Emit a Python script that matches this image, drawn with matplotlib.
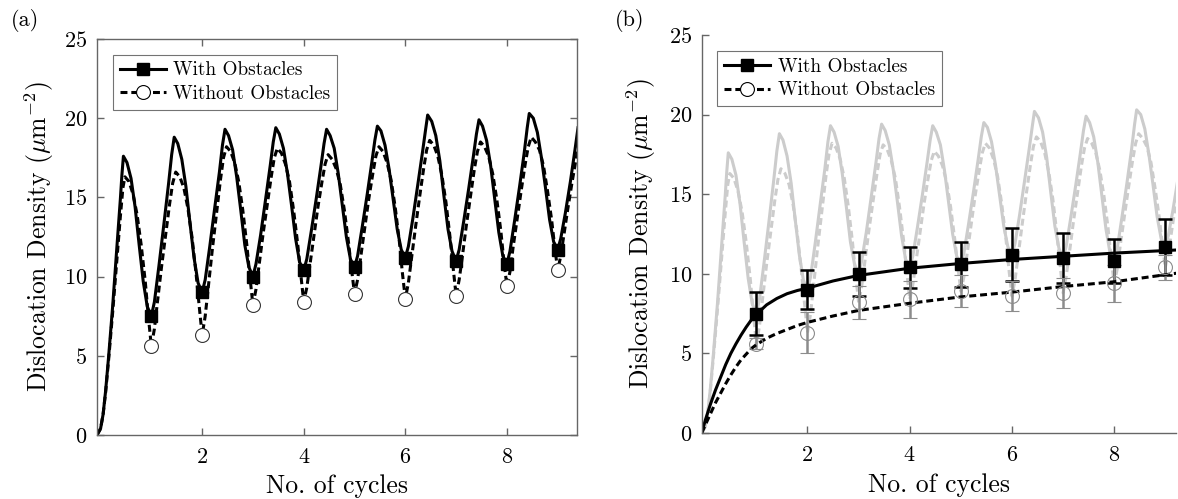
import matplotlib
matplotlib.use('Agg')
import matplotlib.pyplot as plt
from matplotlib.lines import Line2D

plt.rcParams['font.family'] = 'cmr10'
plt.rcParams['mathtext.fontset'] = 'cm'
plt.rcParams['axes.formatter.use_mathtext'] = True
plt.rcParams['lines.scale_dashes'] = False

# cyclic response, with obstacles
x_with = [-0.07, 0.0, 0.05, 0.1, 0.16, 0.24, 0.32, 0.39, 0.42, 0.45, 0.52, 0.6, 0.68, 0.76, 0.84, 0.92, 1.0,
          1.06, 1.15, 1.25, 1.34, 1.40, 1.45, 1.52, 1.6, 1.68, 1.76, 1.84, 1.92, 2.0,
          2.06, 2.15, 2.25, 2.34, 2.40, 2.45, 2.52, 2.6, 2.68, 2.76, 2.84, 2.92, 3.0,
          3.06, 3.15, 3.25, 3.34, 3.40, 3.45, 3.52, 3.6, 3.68, 3.76, 3.84, 3.92, 4.0,
          4.06, 4.15, 4.25, 4.34, 4.40, 4.45, 4.52, 4.6, 4.68, 4.76, 4.84, 4.92, 5.0,
          5.06, 5.15, 5.25, 5.34, 5.40, 5.45, 5.52, 5.6, 5.68, 5.76, 5.84, 5.92, 6.0,
          6.06, 6.15, 6.25, 6.34, 6.40, 6.44, 6.52, 6.6, 6.68, 6.76, 6.84, 6.92, 7.0,
          7.06, 7.15, 7.25, 7.34, 7.40, 7.45, 7.52, 7.6, 7.68, 7.76, 7.84, 7.92, 8.0,
          8.06, 8.15, 8.25, 8.34, 8.40, 8.44, 8.52, 8.6, 8.68, 8.76, 8.84, 8.92, 9.0,
          9.06, 9.15, 9.25, 9.34, 9.40]
y_with = [0, 0.4, 1.3, 2.8, 5.0, 8.2, 11.8, 14.9, 16.4, 17.6, 17.2, 16.2, 14.4, 12.0, 9.7, 8.1, 7.5,
          8.4, 10.7, 13.4, 15.9, 17.7, 18.8, 18.4, 17.4, 15.7, 13.4, 11.2, 9.6, 9.0,
          9.8, 11.9, 14.4, 16.6, 18.3, 19.3, 18.9, 18.0, 16.3, 14.2, 12.0, 10.6, 10.0,
          10.8, 12.6, 14.9, 17.0, 18.5, 19.4, 19.0, 18.1, 16.5, 14.5, 12.4, 10.9, 10.4,
          11.1, 12.9, 15.0, 17.0, 18.4, 19.3, 18.9, 18.1, 16.5, 14.5, 12.5, 11.1, 10.6,
          11.3, 13.1, 15.2, 17.2, 18.6, 19.5, 19.2, 18.3, 16.8, 14.9, 13.0, 11.7, 11.2,
          11.9, 13.7, 15.9, 17.9, 19.3, 20.2, 19.8, 18.9, 17.3, 15.1, 13.0, 11.6, 11.0,
          11.7, 13.5, 15.6, 17.6, 19.0, 19.9, 19.5, 18.6, 17.0, 14.9, 12.8, 11.3, 10.8,
          11.6, 13.5, 15.7, 17.8, 19.4, 20.3, 20.0, 19.1, 17.5, 15.6, 13.6, 12.2, 11.7,
          12.4, 14.0, 16.0, 18.0, 19.4]

# cyclic response, without obstacles
x_without = [-0.07, 0.0, 0.05, 0.1, 0.16, 0.24, 0.32, 0.39, 0.44, 0.48, 0.56, 0.64, 0.72, 0.8, 0.88, 0.94, 1.0,
             1.06, 1.12, 1.2, 1.28, 1.36, 1.42, 1.48, 1.56, 1.64, 1.72, 1.8, 1.88, 1.94, 2.0,
             2.06, 2.12, 2.2, 2.28, 2.36, 2.42, 2.48, 2.56, 2.64, 2.72, 2.8, 2.88, 2.94, 3.0,
             3.06, 3.12, 3.2, 3.28, 3.36, 3.42, 3.48, 3.56, 3.64, 3.72, 3.8, 3.88, 3.94, 4.0,
             4.06, 4.12, 4.2, 4.28, 4.36, 4.42, 4.48, 4.56, 4.64, 4.72, 4.8, 4.88, 4.94, 5.0,
             5.06, 5.12, 5.2, 5.28, 5.36, 5.42, 5.48, 5.56, 5.64, 5.72, 5.8, 5.88, 5.94, 6.0,
             6.06, 6.12, 6.2, 6.28, 6.36, 6.42, 6.48, 6.56, 6.64, 6.72, 6.8, 6.88, 6.94, 7.0,
             7.06, 7.12, 7.2, 7.28, 7.36, 7.42, 7.48, 7.56, 7.64, 7.72, 7.8, 7.88, 7.94, 8.0,
             8.06, 8.12, 8.2, 8.28, 8.36, 8.42, 8.48, 8.56, 8.64, 8.72, 8.8, 8.88, 8.94, 9.0,
             9.06, 9.12, 9.2, 9.28, 9.36, 9.42]
y_without = [0, 0.4, 1.3, 2.7, 4.8, 7.8, 11.0, 13.8, 15.6, 16.3, 16.0, 15.2, 13.9, 12.0, 9.7, 7.5, 5.6,
             6.7, 8.4, 10.6, 12.6, 14.6, 15.9, 16.6, 16.3, 15.6, 14.3, 12.5, 10.2, 8.2, 6.3,
             7.5, 9.3, 11.7, 13.9, 16.1, 17.5, 18.2, 17.9, 17.2, 16.0, 14.2, 12.0, 10.0, 8.2,
             9.2, 10.7, 12.7, 14.5, 16.3, 17.5, 18.1, 17.8, 17.1, 16.0, 14.2, 12.1, 10.2, 8.4,
             9.3, 10.7, 12.6, 14.4, 16.0, 17.1, 17.7, 17.4, 16.8, 15.8, 14.2, 12.2, 10.5, 8.9,
             9.8, 11.2, 13.1, 14.9, 16.5, 17.6, 18.2, 17.9, 17.2, 16.1, 14.4, 12.3, 10.3, 8.6,
             9.6, 11.1, 13.1, 15.0, 16.8, 18.0, 18.6, 18.3, 17.6, 16.4, 14.7, 12.5, 10.6, 8.8,
             9.8, 11.2, 13.2, 15.0, 16.8, 17.9, 18.5, 18.2, 17.6, 16.5, 14.9, 12.9, 11.0, 9.4,
             10.3, 11.8, 13.6, 15.4, 17.1, 18.2, 18.8, 18.5, 18.0, 17.0, 15.4, 13.6, 11.9, 10.4,
             11.3, 12.6, 14.3, 15.9, 17.4, 18.5]

# minima at the end of each cycle
cycles = [1, 2, 3, 4, 5, 6, 7, 8, 9]
min_with = [7.5, 9.0, 10.0, 10.4, 10.6, 11.2, 11.0, 10.8, 11.7]
min_without = [5.6, 6.3, 8.2, 8.4, 8.9, 8.6, 8.8, 9.4, 10.4]
err_with = [1.33, 1.23, 1.4, 1.27, 1.4, 1.65, 1.57, 1.38, 1.75]
err_without = [0.35, 1.3, 1.05, 1.15, 1.0, 0.95, 0.95, 1.15, 0.8]

# fitted trends in (b)
fit_x_with = [-0.07, 0.0, 0.1, 0.2, 0.3, 0.4, 0.5, 0.6, 0.7, 0.8, 0.9, 1.0, 1.2, 1.4, 1.6, 1.8, 2.0,
              2.5, 3.0, 4.0, 5.0, 6.0, 7.0, 8.0, 9.25]
fit_with = [0, 0.8, 1.8, 2.7, 3.5, 4.3, 5.0, 5.6, 6.15, 6.65, 7.1, 7.45, 8.05, 8.45, 8.75, 8.95, 9.1,
            9.55, 9.9, 10.35, 10.65, 10.9, 11.1, 11.3, 11.5]
fit_x_without = [-0.07, 0.0, 0.1, 0.2, 0.3, 0.4, 0.5, 0.6, 0.7, 0.8, 0.9, 1.0, 1.2, 1.4, 1.6, 1.8, 2.0,
                 2.5, 3.0, 4.0, 5.0, 6.0, 7.0, 8.0, 9.25]
fit_without = [0, 0.5, 1.2, 1.9, 2.5, 3.1, 3.65, 4.15, 4.6, 4.95, 5.3, 5.55, 5.95, 6.25, 6.5, 6.75, 6.95,
               7.35, 7.7, 8.15, 8.55, 8.85, 9.2, 9.5, 10.05]

LW = 2.2
DASH = (5.0, 2.8)
LABEL = r'Dislocation Density ($\mu$m$^{-2}$)'

fig = plt.figure(figsize=(11.78, 4.99), dpi=100)
ax1 = fig.add_axes([97 / 1178, 1 - 435 / 499, 480 / 1178, 396 / 499])
ax2 = fig.add_axes([701.7 / 1178, 1 - 433 / 499, 474.3 / 1178, 398 / 499])

# (a)
ax1.plot(x_with, y_with, color='k', lw=LW)
ax1.plot(x_without, y_without, color='k', lw=LW, dashes=DASH)
ax1.plot(cycles, min_with, 's', color='k', ms=8.5)
ax1.plot(cycles, min_without, 'o', mfc='w', mec='0.2', mew=0.8, ms=10)

# (b)
ax2.plot(x_with, y_with, color='0.8', lw=LW)
ax2.plot(x_without, y_without, color='0.8', lw=LW, dashes=DASH)
ax2.errorbar(cycles, min_with, yerr=err_with, fmt='s', color='k', ms=8.5,
             capsize=5, elinewidth=1.8, capthick=1.8)
ax2.errorbar(cycles, min_without, yerr=err_without, fmt='o', mfc='none', mec='0.55', mew=0.8,
             ecolor='0.55', ms=10, capsize=5, elinewidth=1.8, capthick=1.8)
ax2.plot(fit_x_with, fit_with, color='k', lw=LW)
ax2.plot(fit_x_without, fit_without, color='k', lw=LW, dashes=DASH)

handles = [Line2D([], [], color='k', lw=LW, marker='s', ms=8.5),
           Line2D([], [], color='k', lw=LW, dashes=DASH, marker='o', mfc='w', mec='k', mew=0.8, ms=10)]
names = ['With Obstacles', 'Without Obstacles']

for ax, xmax in ((ax1, 9.38), (ax2, 9.21)):
    ax.set_xlim(-0.07, xmax)
    ax.set_ylim(0, 25)
    ax.set_xticks([2, 4, 6, 8])
    ax.set_yticks([0, 5, 10, 15, 20, 25])
    for s in ax.spines.values():
        s.set_color('0.4')
        s.set_linewidth(1)
    ax.tick_params(direction='in', length=5, width=1, color='0.4', labelsize=16)
    ax.tick_params(axis='x', pad=9)
    ax.tick_params(axis='y', pad=7)
    ax.set_xlabel('No. of cycles', fontsize=18.5)
    ax.set_ylabel(LABEL, fontsize=18.5)
    ax.xaxis.set_label_coords(0.5, -0.1)
    leg = ax.legend(handles, names, loc='upper left', bbox_to_anchor=(0.033, 0.96), borderaxespad=0,
                    fontsize=13.8, fancybox=False, framealpha=1, edgecolor='0.45',
                    handlelength=2.4, handletextpad=0.4, labelspacing=0.3, borderpad=0.35)
    leg.get_frame().set_linewidth(0.8)

ax1.tick_params(top=True, right=True)
ax1.yaxis.set_label_coords(-0.085, 0.5)
ax2.spines['top'].set_visible(False)
ax2.spines['right'].set_visible(False)
ax2.yaxis.set_label_coords(-0.092, 0.5)

fig.text(25 / 1178, 1 - 20 / 499, '(a)', ha='center', va='center', fontsize=16)
fig.text(630 / 1178, 1 - 20 / 499, '(b)', ha='center', va='center', fontsize=16)

fig.savefig('out.png', dpi=100)
